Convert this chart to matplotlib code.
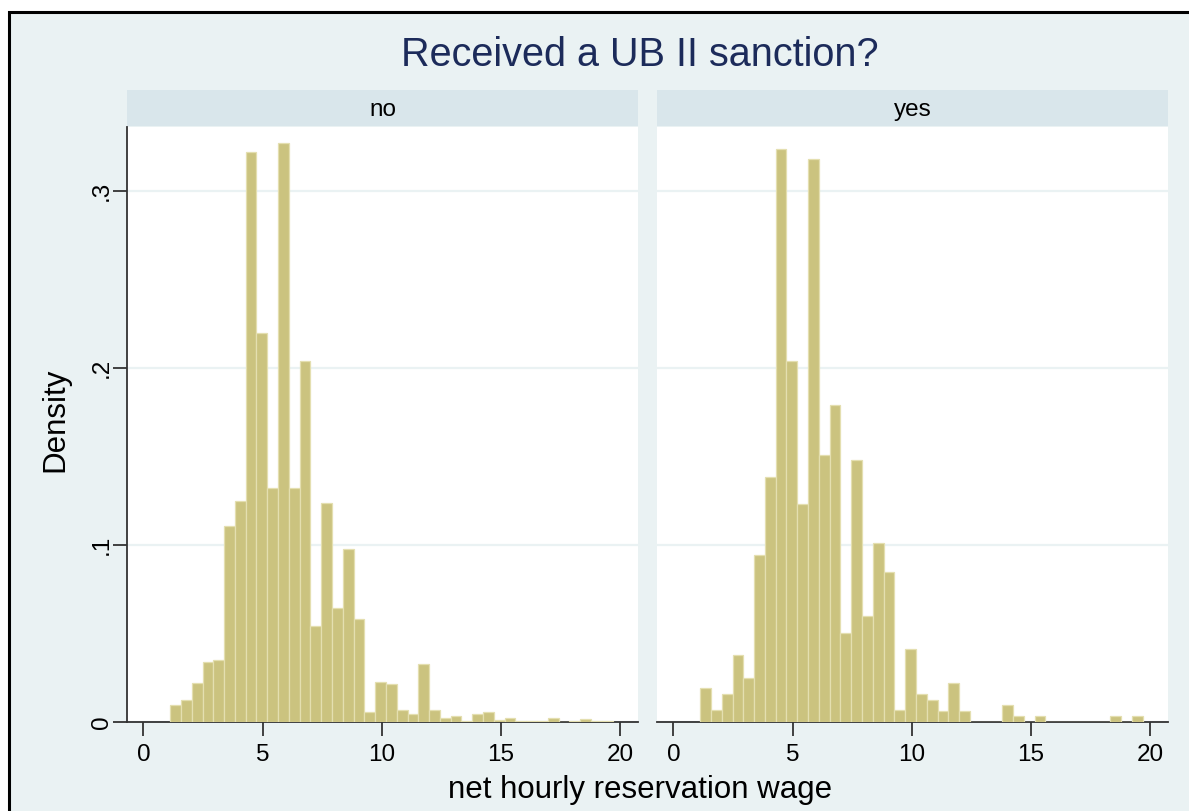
import numpy as np
import matplotlib
matplotlib.use("Agg")
import matplotlib.pyplot as plt
from matplotlib.patches import Rectangle

plt.rcParams['font.family'] = ['Liberation Sans', 'DejaVu Sans']

# histogram bins (41 common bins)
bin_start = 1.12
bin_width = 0.4527

# densities
dens_no = [0.0095, 0.0127, 0.0218, 0.0337, 0.0352, 0.111, 0.125, 0.322, 0.2196, 0.132,
           0.327, 0.132, 0.2037, 0.054, 0.124, 0.0643, 0.0977, 0.0583, 0.0058, 0.0224,
           0.0214, 0.0066, 0.0047, 0.0328, 0.0066, 0.0024, 0.0032, 0.0005, 0.0047, 0.0056,
           0.0009, 0.0024, 0.0005, 0.0005, 0.0005, 0.0024, 0.0002, 0.0006, 0.0019, 0.0006,
           0.0008]
dens_yes = [0.019, 0.0065, 0.016, 0.038, 0.025, 0.0945, 0.1385, 0.324, 0.204, 0.123,
            0.318, 0.151, 0.179, 0.0505, 0.148, 0.060, 0.101, 0.085, 0.0065, 0.041,
            0.016, 0.0126, 0.0062, 0.022, 0.0062, 0, 0, 0, 0.0096, 0.0032,
            0, 0.0032, 0, 0, 0, 0, 0, 0, 0.0032, 0,
            0.0032]

panels = ["no", "yes"]
xticks = [0, 5, 10, 15, 20]
yticks = [0, 0.1, 0.2, 0.3]
ytick_labels = ["0", ".1", ".2", ".3"]

bg = "#EAF2F3"
strip_col = "#D9E6EB"
bar_col = "#CBC37F"
bar_edge = "#E4DFB0"
axis_col = "#333333"

W, H = 1189, 811
fig = plt.figure(figsize=(W / 100, H / 100), dpi=100)
fig.patch.set_facecolor("white")

# outer graph region with black frame (cut off at right and bottom)
fig.patches.append(Rectangle((9 / W, -0.02), 1.05, (H - 12) / H + 0.02,
                             transform=fig.transFigure, facecolor=bg,
                             edgecolor="black", linewidth=2.2, zorder=-10))

fig.text(640 / W, 1 - 55 / H, "Received a UB II sanction?", ha="center", va="center",
         fontsize=28.5, color="#1C2B5A")

lefts = [127, 657]
pw = 511
top, bottom = 127, 722
edges = bin_start + bin_width * np.arange(len(dens_no))

for k, (name, dens) in enumerate(zip(panels, [dens_no, dens_yes])):
    ax = fig.add_axes([lefts[k] / W, (H - bottom) / H, pw / W, (bottom - top) / H])
    ax.set_facecolor("white")
    ax.bar(edges, dens, width=bin_width, align="edge", color=bar_col,
           edgecolor=bar_edge, linewidth=0.9, zorder=3)
    ax.set_xlim(-0.69, 20.75)
    ax.set_ylim(0, 0.3362)
    ax.set_yticks(yticks)
    ax.set_xticks(xticks)
    ax.grid(axis="y", color=bg, linewidth=1.6, zorder=0)
    for s in ["top", "right"]:
        ax.spines[s].set_visible(False)
    ax.spines["bottom"].set_color(axis_col)
    ax.spines["bottom"].set_linewidth(1.3)
    ax.tick_params(axis="x", direction="out", length=10, width=1.3, color=axis_col,
                   labelsize=17.5, pad=6)
    if k == 0:
        ax.spines["left"].set_color(axis_col)
        ax.spines["left"].set_linewidth(1.3)
        ax.set_yticklabels(ytick_labels, rotation=90, va="center")
        ax.tick_params(axis="y", direction="out", length=10, width=1.3, color=axis_col,
                       labelsize=17.5, pad=0)
    else:
        ax.spines["left"].set_visible(False)
        ax.tick_params(axis="y", length=0, labelleft=False)

    # strip with panel label
    sax = fig.add_axes([lefts[k] / W, (H - 126) / H, pw / W, 36 / H])
    sax.set_facecolor(strip_col)
    sax.set_xticks([])
    sax.set_yticks([])
    for s in sax.spines.values():
        s.set_visible(False)
    sax.text(0.5, 0.45, name, ha="center", va="center", fontsize=17.5,
             transform=sax.transAxes)

fig.text(55 / W, 1 - 420 / H, "Density", rotation=90, ha="center", va="center",
         fontsize=22.5)
fig.text(640 / W, 1 - 790 / H, "net hourly reservation wage", ha="center", va="center",
         fontsize=22.5)

fig.savefig("out.png", dpi=100, facecolor=fig.get_facecolor())
